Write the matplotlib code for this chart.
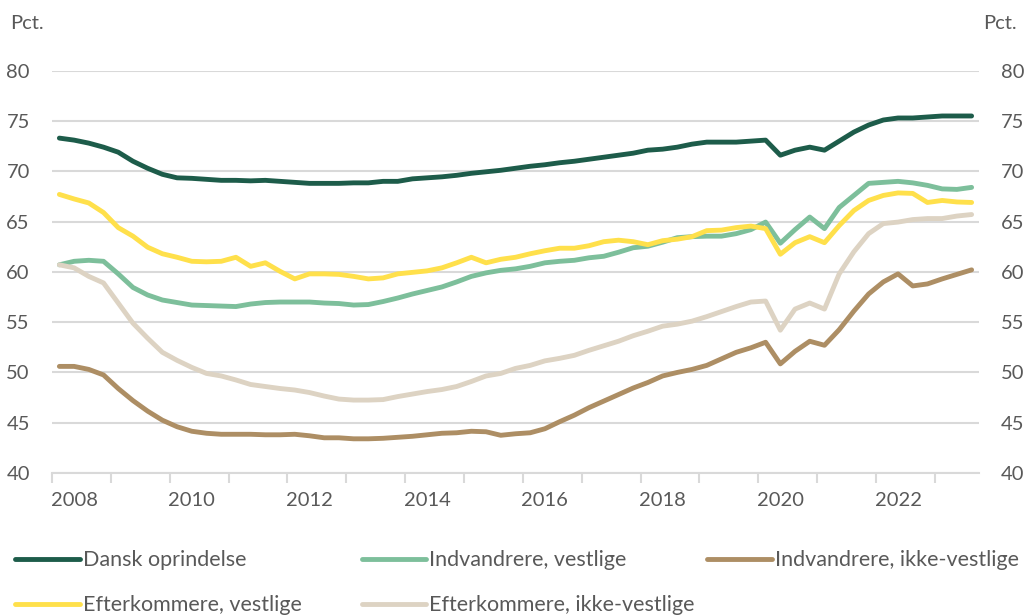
import numpy as np
import matplotlib
matplotlib.use("Agg")
import matplotlib.pyplot as plt

# quarterly data, 2008Q1 - 2023Q3
dansk = [73.3, 73.1, 72.8, 72.4, 71.9, 71.0, 70.3, 69.7, 69.35, 69.3,
         69.2, 69.1, 69.1, 69.05, 69.1, 69.0, 68.9, 68.8, 68.8, 68.8,
         68.85, 68.85, 69.0, 69.0, 69.25, 69.35, 69.45, 69.6, 69.8, 69.95,
         70.1, 70.3, 70.5, 70.65, 70.85, 71.0, 71.2, 71.4, 71.6, 71.8,
         72.1, 72.2, 72.4, 72.7, 72.9, 72.9, 72.9, 73.0, 73.1, 71.6,
         72.1, 72.4, 72.1, 73.0, 73.9, 74.6, 75.1, 75.3, 75.3, 75.4,
         75.5, 75.5, 75.5]
ind_vest = [60.7, 61.05, 61.15, 61.05, 59.8, 58.45, 57.7, 57.2, 56.95, 56.7,
            56.65, 56.6, 56.55, 56.8, 56.95, 57.0, 57.0, 57.0, 56.9, 56.85,
            56.7, 56.75, 57.05, 57.4, 57.8, 58.15, 58.5, 59.0, 59.55, 59.9,
            60.15, 60.3, 60.55, 60.9, 61.05, 61.15, 61.4, 61.55, 61.95, 62.4,
            62.55, 62.95, 63.4, 63.5, 63.55, 63.55, 63.8, 64.2, 64.95, 62.85,
            64.2, 65.45, 64.3, 66.4, 67.6, 68.8, 68.9, 69.0, 68.85, 68.6,
            68.25, 68.2, 68.4]
ind_ikke = [50.6, 50.6, 50.3, 49.75, 48.4, 47.2, 46.15, 45.25, 44.6, 44.15,
            43.95, 43.85, 43.85, 43.85, 43.8, 43.8, 43.85, 43.7, 43.5, 43.5,
            43.4, 43.4, 43.45, 43.55, 43.65, 43.8, 43.95, 44.0, 44.15, 44.1,
            43.75, 43.9, 44.0, 44.4, 45.1, 45.75, 46.5, 47.15, 47.8, 48.45,
            49.0, 49.65, 50.0, 50.3, 50.7, 51.35, 52.0, 52.45, 53.0, 50.85,
            52.1, 53.1, 52.7, 54.25, 56.1, 57.8, 59.0, 59.8, 58.6, 58.8,
            59.3, 59.75, 60.2]
eft_vest = [67.7, 67.25, 66.85, 65.9, 64.4, 63.55, 62.45, 61.8, 61.45, 61.05,
            61.0, 61.05, 61.45, 60.55, 60.9, 60.05, 59.3, 59.8, 59.8, 59.75,
            59.55, 59.3, 59.4, 59.8, 59.95, 60.1, 60.4, 60.9, 61.45, 60.9,
            61.25, 61.45, 61.8, 62.1, 62.35, 62.35, 62.6, 63.0, 63.15, 63.0,
            62.7, 63.1, 63.25, 63.5, 64.1, 64.15, 64.4, 64.55, 64.3, 61.75,
            62.9, 63.5, 62.9, 64.6, 66.1, 67.1, 67.6, 67.85, 67.8, 66.9,
            67.1, 66.95, 66.9]
eft_ikke = [60.7, 60.4, 59.55, 58.9, 56.9, 54.9, 53.4, 52.0, 51.2, 50.5,
            49.9, 49.65, 49.25, 48.8, 48.6, 48.4, 48.25, 48.0, 47.65, 47.35,
            47.25, 47.25, 47.3, 47.6, 47.85, 48.1, 48.3, 48.6, 49.1, 49.65,
            49.9, 50.4, 50.7, 51.15, 51.4, 51.7, 52.2, 52.65, 53.1, 53.65,
            54.1, 54.6, 54.8, 55.1, 55.55, 56.05, 56.55, 57.0, 57.1, 54.2,
            56.3, 56.9, 56.3, 59.8, 62.0, 63.8, 64.8, 64.95, 65.2, 65.3,
            65.3, 65.55, 65.7]

year_labels = ["2008", "2010", "2012", "2014", "2016", "2018", "2020", "2022"]

series = [
    ("Dansk oprindelse", dansk, "#1d5c4a"),
    ("Indvandrere, vestlige", ind_vest, "#7dbf9b"),
    ("Indvandrere, ikke-vestlige", ind_ikke, "#ad8e64"),
    ("Efterkommere, vestlige", eft_vest, "#ffe04b"),
    ("Efterkommere, ikke-vestlige", eft_ikke, "#ddd3c3"),
]

txt = "#595959"
grid = "#d9d9d9"
plt.rcParams["font.family"] = ["Lato", "DejaVu Sans"]
plt.rcParams["font.size"] = 14

fig = plt.figure(figsize=(10.28, 6.15), dpi=100)
ax = fig.add_axes([0.0506, 0.2309, 0.9017, 0.6541])

n = len(dansk)
x = np.arange(n)
handles = []
for name, vals, col in series:
    h, = ax.plot(x, vals, color=col, lw=3.5, solid_capstyle="round",
                 solid_joinstyle="round", label=name)
    handles.append(h)

ax.set_xlim(-0.5, n - 0.5)
ax.set_ylim(40, 80)
ax.set_yticks(np.arange(40, 81, 5))
ax.yaxis.grid(True, color=grid, lw=1.5)
ax.set_axisbelow(True)
for s in ["top", "left", "right"]:
    ax.spines[s].set_visible(False)
ax.spines["bottom"].set_color(grid)
ax.spines["bottom"].set_linewidth(1.5)

ax.set_xticks(np.arange(1, n, 8))
ax.set_xticklabels(year_labels)
ax.set_xticks(np.arange(-0.5, n - 0.5, 4), minor=True)
ax.tick_params(axis="x", which="major", length=0, pad=14, colors=txt,
               labelsize=14.5)
ax.tick_params(axis="x", which="minor", length=7, width=1.5, color=grid)
ax.tick_params(axis="y", length=0, pad=16, colors=txt, labelsize=14.5,
               labelleft=True, labelright=True)

fig.text(0.0097, 0.962, "Pct.", color=txt, fontsize=14.5, va="center")
fig.text(0.956, 0.962, "Pct.", color=txt, fontsize=14.5, va="center")

leg_kw = dict(frameon=False, handlelength=3.0, handletextpad=0.14,
              labelspacing=1.17, fontsize=15.5, labelcolor=txt,
              borderaxespad=0, borderpad=0, loc="upper left")
fig.legend([handles[0], handles[3]], [series[0][0], series[3][0]],
           bbox_to_anchor=(0.015, 0.1056), **leg_kw)
fig.legend([handles[1], handles[4]], [series[1][0], series[4][0]],
           bbox_to_anchor=(0.352, 0.1056), **leg_kw)
fig.legend([handles[2]], [series[2][0]],
           bbox_to_anchor=(0.688, 0.1056), **leg_kw)

fig.savefig("out.png", dpi=100)
